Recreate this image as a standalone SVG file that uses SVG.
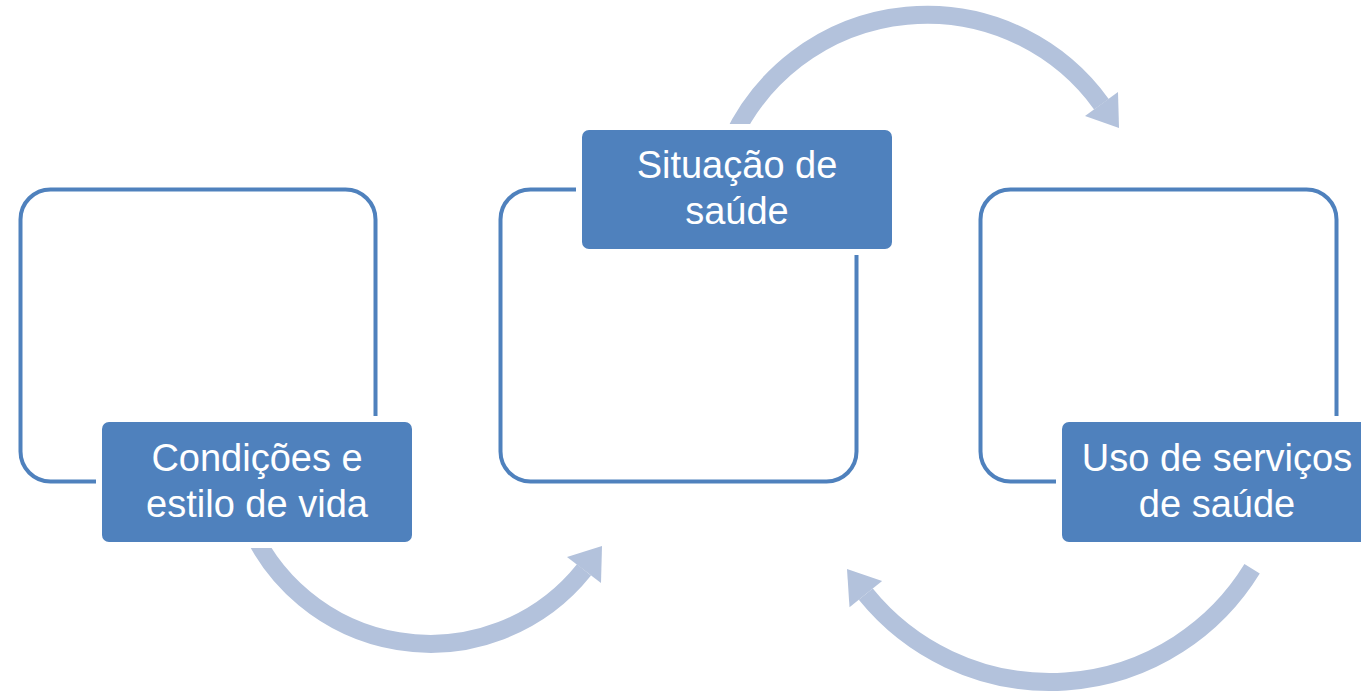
<svg xmlns="http://www.w3.org/2000/svg" width="1361" height="694" viewBox="0 0 1361 694">
<style>
.arc{fill:none;stroke:#B3C2DC;stroke-width:18;stroke-linecap:butt}
.head{fill:#B3C2DC}
.frame{fill:none;stroke:#4F81BD;stroke-width:4}
.halo{fill:#FFFFFF}
.label{fill:#4F81BD}
.txt{font-family:"Liberation Sans",Arial,sans-serif;font-size:38px;fill:#FFFFFF;text-anchor:middle}
</style>
<rect width="1361" height="694" fill="#FFFFFF"/>
<g id="connectors">
<path class="arc" d="M 245 514 A 197 197 0 0 0 584 569.9"/>
<polygon class="head" points="567,557 601,583 602,546"/>
<path class="arc" d="M 732 139 A 215 215 0 0 1 1101.4 104.2"/>
<polygon class="head" points="1085,116 1118,92 1119,128"/>
<path class="arc" d="M 1252.1 568.8 A 237 237 0 0 1 865.8 594.1"/>
<polygon class="head" points="849.5,607.3 882.1,580.9 847,569"/>
</g>
<g id="frame1"><rect class="frame" x="20.5" y="189.5" width="355" height="292" rx="30"/></g>
<g id="frame2"><rect class="frame" x="500.5" y="189.5" width="356" height="292" rx="30"/></g>
<g id="frame3"><rect class="frame" x="980.5" y="189.5" width="356" height="292" rx="30"/></g>
<g id="node1">
<rect class="halo" x="96" y="416" width="322" height="132" rx="10"/>
<rect class="label" x="102" y="422" width="310" height="120" rx="7"/>
<text class="txt" x="257" y="471">Condições e</text>
<text class="txt" x="257" y="517">estilo de vida</text>
</g>
<g id="node2">
<rect class="halo" x="576" y="124" width="322" height="131" rx="10"/>
<rect class="label" x="582" y="130" width="310" height="119" rx="7"/>
<text class="txt" x="737" y="178">Situação de</text>
<text class="txt" x="737" y="224">saúde</text>
</g>
<g id="node3">
<rect class="halo" x="1056" y="416" width="322" height="132" rx="10"/>
<rect class="label" x="1062" y="422" width="310" height="120" rx="7"/>
<text class="txt" x="1217" y="471">Uso de serviços</text>
<text class="txt" x="1217" y="517">de saúde</text>
</g>
</svg>
